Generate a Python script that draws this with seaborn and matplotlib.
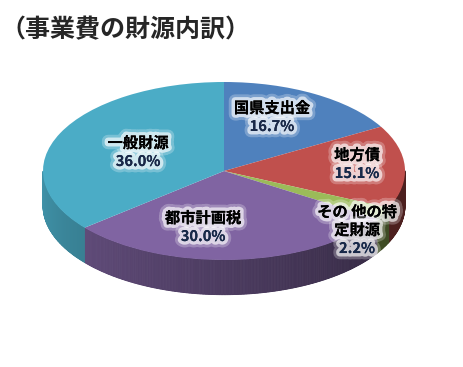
import numpy as np
import matplotlib
matplotlib.use('Agg')
import matplotlib.pyplot as plt
import matplotlib.patheffects as pe
import matplotlib.transforms as mtransforms
import seaborn as sns

# data
title = "（事業費の財源内訳）"
categories = ["国県支出金", "地方債", "その 他の特\n定財源", "都市計画税", "一般財源"]
shares = [16.7, 15.1, 2.2, 30.0, 36.0]
pct_labels = ["16.7%", "15.1%", "2.2%", "30.0%", "36.0%"]

# style
palette = sns.color_palette(["#4F81BD", "#C0504D", "#9BBB59", "#8064A2", "#4BACC6"])
label_pos = [(0.265, 0.708), (0.735, 0.180), (0.735, -0.562), (-0.116, -0.528), (-0.475, 0.315)]
depth = 0.39          # wall height in pie-radius units (y)
cx, cy, rx, ry = 224, 171, 181, 89   # pie centre / semi-axes in pixels
W, H = 464, 367

sns.set_theme(style="white")
plt.rcParams['font.family'] = ['Noto Sans CJK JP', 'DejaVu Sans']

fig = plt.figure(figsize=(W / 100, H / 100), dpi=100)
ax = fig.add_axes([0, 0, 1, 1])


def shade(theta):
    # darker towards the right front of the wall
    t = min(max((theta - 180) / 155, 0), 1)
    return 0.86 - 0.46 * t


# side wall, drawn as thin strips so it can carry a gradient
bounds = 90 - 360 * np.concatenate([[0], np.cumsum(shares)]) / sum(shares)
for i, col in enumerate(palette):
    a0, a1 = bounds[i + 1], bounds[i]
    steps = np.linspace(a0, a1, max(int((a1 - a0) * 2), 2) + 1)
    for t0, t1 in zip(steps[:-1], steps[1:]):
        mid = (t0 + t1) / 2
        if np.sin(np.radians(mid)) >= 0:
            continue
        th = np.radians(np.linspace(t0, t1, 4))
        xs = np.cos(th)
        ys = np.sin(th)
        px = np.concatenate([xs, xs[::-1]])
        py = np.concatenate([ys, ys[::-1] - depth])
        c = np.array(col) * shade(mid % 360)
        ax.fill(px, py, color=c, lw=0.6, ec=c, zorder=1)

ax.pie(shares, startangle=90, counterclock=False, colors=palette, radius=1,
       center=(0, 0), wedgeprops=dict(linewidth=0, zorder=2))

ax.set_xlim(-cx / rx, (W - cx) / rx)
ax.set_ylim(-(H - cy) / ry, cy / ry)
ax.set_aspect('auto')
ax.axis('off')

glow = [pe.withStroke(linewidth=9, foreground=(1, 1, 1, 0.25)),
        pe.withStroke(linewidth=5, foreground=(1, 1, 1, 0.65)),
        pe.Normal()]

for name, pct, (lx, ly) in zip(categories, pct_labels, label_pos):
    nlines = name.count("\n") + 1
    ax.text(lx, ly, name, ha='center', va='center', fontsize=11, weight='bold',
            color='black', linespacing=1.15, path_effects=glow, zorder=5)
    off = mtransforms.offset_copy(ax.transData, fig=fig, x=0,
                                  y=-(18 + 9 * (nlines - 1)), units='dots')
    ax.text(lx, ly, pct, ha='center', va='center', fontsize=10.5, weight='bold',
            color='#182848', transform=off, path_effects=glow, zorder=5)

fig.text(0 / W, 1 - 30 / H, title, ha='left', va='center', fontsize=18, weight='bold')

fig.savefig("out.png", dpi=100)
plt.close(fig)
